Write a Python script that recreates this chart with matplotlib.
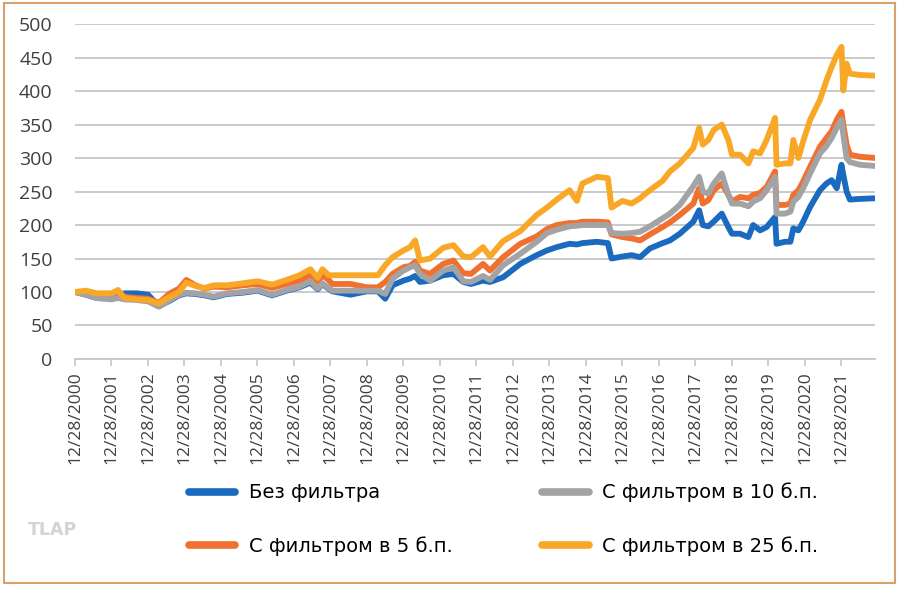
import matplotlib.pyplot as plt
import matplotlib.patches as patches

# time axis: decimal years, 2001.0 = 12/28/2000
t = [2001.0, 2001.3, 2001.6, 2002.0, 2002.18, 2002.35, 2002.7, 2003.0, 2003.3, 2003.6,
     2003.85, 2004.05, 2004.3, 2004.55, 2004.8, 2005.15, 2005.6, 2006.0, 2006.4, 2006.8,
     2007.15, 2007.45, 2007.65, 2007.78, 2007.95, 2008.05, 2008.55, 2009.0, 2009.3, 2009.5,
     2009.7, 2010.0, 2010.18, 2010.32, 2010.45, 2010.73, 2011.09, 2011.37, 2011.64, 2011.85,
     2012.18, 2012.37, 2012.73, 2013.2, 2013.65, 2013.93, 2014.2, 2014.55, 2014.75, 2014.9,
     2015.3, 2015.6, 2015.7, 2016.0, 2016.25, 2016.48, 2016.75, 2017.1, 2017.3, 2017.57,
     2017.94, 2018.1, 2018.2, 2018.35, 2018.5, 2018.72, 2018.9, 2019.0, 2019.22, 2019.45,
     2019.58, 2019.77, 2019.95, 2020.18, 2020.22, 2020.45, 2020.6, 2020.68, 2020.82, 2020.95,
     2021.14, 2021.41, 2021.59, 2021.73, 2021.87, 2022.0, 2022.05, 2022.14, 2022.23, 2022.5,
     2022.95]

no_filter = [100, 96, 91, 90, 95, 98, 98, 96, 79, 87,
             95, 98, 97, 95, 92, 97, 99, 102, 95, 102,
             107, 114, 104, 112, 105, 101, 96, 101, 101, 90,
             110, 117, 120, 124, 115, 117, 125, 127, 115, 112,
             117, 115, 122, 142, 155, 162, 167, 172, 171, 173,
             175, 173, 150, 153, 155, 152, 165, 173, 177, 187,
             205, 222, 200, 198, 205, 217, 197, 187, 187, 182,
             200, 192, 197, 212, 172, 175, 175, 195, 192, 205,
             227, 252, 262, 267, 255, 290, 275, 250, 238, 239,
             240]

filter_5 = [100, 100, 95, 95, 100, 93, 91, 90, 84, 98,
            105, 118, 110, 105, 108, 107, 110, 112, 106, 112,
            117, 125, 115, 125, 118, 112, 112, 107, 107, 115,
            127, 137, 139, 145, 132, 127, 142, 147, 128, 127,
            142, 132, 152, 172, 183, 194, 200, 203, 203, 205,
            205, 204, 186, 182, 180, 177, 186, 197, 204, 215,
            232, 255, 232, 237, 252, 262, 245, 235, 242, 240,
            245, 248, 257, 280, 230, 230, 232, 245, 252, 265,
            287, 317, 330, 340, 357, 369, 350, 320, 305, 302,
            300]

filter_10 = [100, 96, 91, 89, 91, 89, 88, 86, 78, 88,
             96, 99, 98, 96, 93, 98, 100, 103, 96, 103,
             108, 116, 105, 113, 106, 102, 102, 102, 102, 97,
             120, 132, 137, 140, 127, 117, 132, 137, 116, 115,
             124, 118, 140, 157, 175, 188, 193, 198, 199, 200,
             200, 200, 188, 187, 188, 190, 198, 210, 217, 230,
             258, 272, 250, 247, 262, 277, 245, 232, 232, 228,
             235, 240, 252, 272, 217, 217, 220, 235, 242, 255,
             277, 307, 318, 330, 345, 357, 335, 300, 294, 290,
             288]

filter_25 = [100, 102, 98, 98, 103, 91, 89, 88, 83, 93,
             100, 114, 109, 106, 110, 110, 113, 116, 111, 118,
             125, 134, 121, 134, 125, 125, 125, 125, 125, 140,
             152, 162, 167, 177, 147, 150, 166, 170, 153, 152,
             167, 153, 176, 191, 215, 226, 238, 252, 236, 262,
             272, 270, 226, 236, 232, 240, 252, 266, 280, 292,
             315, 345, 320, 327, 342, 350, 327, 305, 305, 292,
             310, 307, 327, 360, 290, 292, 292, 327, 300, 325,
             357, 387, 416, 436, 454, 466, 401, 441, 426, 424,
             423]

labels = ["Без фильтра", "С фильтром в 5 б.п.", "С фильтром в 10 б.п.", "С фильтром в 25 б.п."]
colors = ["#1a6bbf", "#f07030", "#a3a3a6", "#f8a826"]
tick_years = list(range(2000, 2022))

fig = plt.figure(figsize=(9, 5.98), dpi=100)
ax = fig.add_axes([0.0833, 0.3997, 0.889, 0.560])

for series, lab, col in zip([no_filter, filter_5, filter_10, filter_25], labels, colors):
    ax.plot(t, series, color=col, lw=4.2, label=lab, solid_joinstyle="round",
            solid_capstyle="round")

ax.set_ylim(0, 500)
ax.set_yticks(range(0, 501, 50))
ax.set_xlim(2001.0, 2022.92)
ax.set_xticks([y + 1 for y in tick_years])
ax.set_xticklabels([f"12/28/{y}" for y in tick_years], rotation=90)

ax.grid(axis="y", color="#c6c6c6", lw=1.3)
ax.set_axisbelow(True)
for s in ["top", "right", "left"]:
    ax.spines[s].set_visible(False)
ax.spines["bottom"].set_color("#c6c6c6")
ax.spines["bottom"].set_linewidth(1.3)
ax.tick_params(axis="y", length=0, pad=16, labelsize=14, labelcolor="#404040")
ax.tick_params(axis="x", length=5, width=1.2, color="#c6c6c6", pad=4,
               labelsize=12.5, labelcolor="#404040")
for lbl in ax.get_yticklabels() + ax.get_xticklabels():
    lbl.set_family(["Open Sans", "DejaVu Sans"])

h, l = ax.get_legend_handles_labels()
leg = fig.legend(h, l, ncol=2, loc="upper left", bbox_to_anchor=(0.19, 0.222),
                 frameon=False, handlelength=2.4, handletextpad=0.7,
                 columnspacing=4.6, labelspacing=1.75,
                 prop={"family": ["DejaVu Sans"], "size": 14})
for line in leg.get_lines():
    line.set_linewidth(5.5)
    line.set_solid_capstyle("round")

fig.text(0.031, 0.105, "TLAP", color="#d4d4d4", fontsize=12.5, fontweight="bold",
         family=["DejaVu Sans"])

fig.patches.append(patches.Rectangle((0.0044, 0.025), 0.99, 0.97, transform=fig.transFigure,
                                     fill=False, ec="#d8a06c", lw=1.5))

fig.savefig("out.png", dpi=100, facecolor="white")
